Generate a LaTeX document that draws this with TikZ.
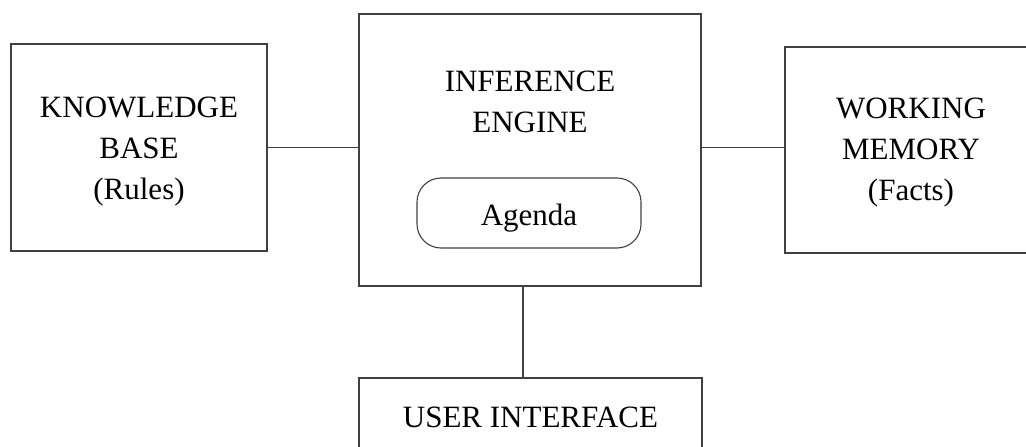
\documentclass[tikz,border=0pt]{standalone}
\usepackage{fontspec}
\setmainfont{Liberation Serif}
\begin{document}
\begin{tikzpicture}[x=1pt,y=-1pt,
    txt/.style={font=\fontsize{31}{41}\selectfont, align=center, inner sep=0pt},
    blk/.style={txt, shape=rectangle, draw=black!75, line width=1.1pt},
    link/.style={draw=black!75, line width=1.1pt}]
    \useasboundingbox (0,0) rectangle (1026,447);

    \node[blk, minimum width=256pt, minimum height=207pt] (kb) at (139,147.5) {};
    \node[blk, minimum width=342pt, minimum height=272pt] (ie) at (530,150) {};
    \node[blk, minimum width=252pt, minimum height=206pt] (wm) at (911,150) {};
    \node[blk, minimum width=343pt, minimum height=78pt] (ui) at (530.5,417) {USER INTERFACE};

    \node[txt] (kbtitle) at (139,151.5) {KNOWLEDGE\\BASE\\(Rules)};
    \node[txt] (ietitle) at (530,102) {INFERENCE\\ENGINE};
    \node[txt] (wmtitle) at (911,153) {WORKING\\MEMORY\\(Facts)};
    \node[blk, rounded corners=24pt, minimum width=224pt, minimum height=70pt, text height=24pt, text depth=0pt] (agenda) at (529,213) {Agenda};

    \path [link] (kb.east) edge (kb.east -| ie.west);
    \path [link] (ie.east |- kb.east) edge (wm.west |- kb.east);
    \path [link] ([xshift=-7pt]ie.south) edge ([xshift=-7pt]ie.south |- ui.north);
\end{tikzpicture}
\end{document}
